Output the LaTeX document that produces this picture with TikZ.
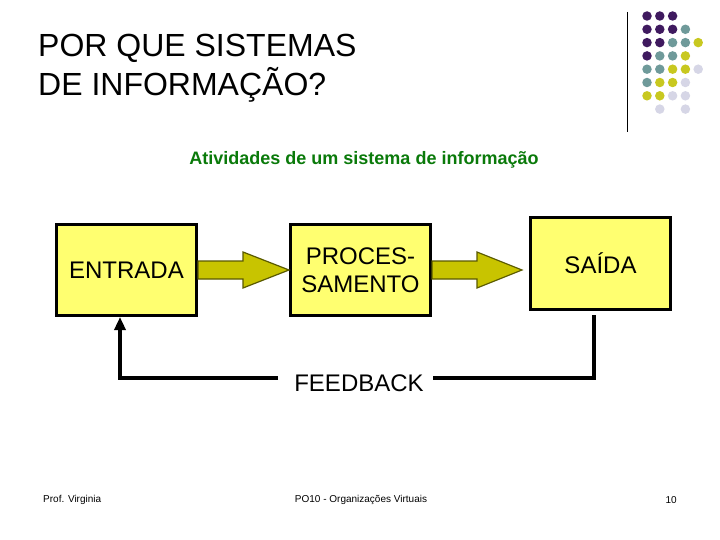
\documentclass[tikz,border=0pt]{standalone}
\usepackage{fontspec}
\setmainfont{Liberation Sans}
\usetikzlibrary{calc,arrows.meta}
\definecolor{boxyellow}{HTML}{FFFF70}
\definecolor{arrowolive}{HTML}{C8C400}
\definecolor{arrowedge}{HTML}{5A5A00}
\definecolor{subgreen}{HTML}{0A7A0A}
\definecolor{dotP}{HTML}{3F1A5F}
\definecolor{dotT}{HTML}{6F9A9A}
\definecolor{dotY}{HTML}{C8C820}
\definecolor{dotL}{HTML}{D6D6E6}
\tikzset{
  stagebox/.style={draw=black,line width=3pt,fill=boxyellow,minimum width=140pt,minimum height=91pt,inner sep=0pt,font=\fontsize{24}{28}\selectfont,align=center},
  blockarrow/.style={draw=arrowedge,line width=1.2pt,fill=arrowolive,line join=miter},
  fbline/.style={line width=4pt,draw=black},
  dot/.style={circle,inner sep=0pt,minimum size=9.5pt},
  titletext/.style={anchor=base west,inner sep=0pt,font=\fontsize{32}{38}\selectfont},
  foot/.style={inner sep=0pt,font=\fontsize{10}{12}\selectfont}
}
\begin{document}
\begin{tikzpicture}[x=1pt,y=-1pt]
\useasboundingbox[fill=white] (0,0) rectangle (720,540);
% title
\node[titletext] (t1) at (38,57) {POR QUE SISTEMAS};
\node[titletext] (t2) at (38,96) {DE INFORMAÇÃO?};
% decoration
\coordinate (vl1) at (627,12);
\coordinate (vl2) at (627,132);
\draw[line width=1pt] (vl1) -- (vl2);
\foreach \r/\a/\b/\cc/\d/\e in {1/P/P/P/N/N,2/P/P/P/T/N,3/P/P/T/T/Y,4/P/T/T/Y/N,5/T/T/Y/Y/L,6/T/Y/Y/L/N,7/Y/Y/L/L/N,8/N/L/N/L/N}{
  \foreach \c/\k in {1/\a,2/\b,3/\cc,4/\d,5/\e}{
    \if N\k\else
      \node[dot,fill=dot\k] (d\r\c) at ({647+12.8*(\c-1)},{16+13.3*(\r-1)}) {};
    \fi
  }
}
% subtitle
\node[inner sep=0pt,text=subgreen,font=\bfseries\fontsize{18}{22}\selectfont] (sub) at (364,160) {Atividades de um sistema de informação};
% boxes
\node[stagebox] (ent) at (126.5,270) {ENTRADA};
\node[stagebox] (proc) at (360.5,270) {PROCES-\\SAMENTO};
\node[stagebox] (sai) at (600.5,263.5) {SAÍDA};
% block arrows
\draw[blockarrow] ($(ent.east)+(0,-9)$) -- ($(ent.east)+(45,-9)$) -- ($(ent.east)+(45,-18)$) -- (proc.west) -- ($(ent.east)+(45,18)$) -- ($(ent.east)+(45,9)$) -- ($(ent.east)+(0,9)$) -- cycle;
\coordinate (tip2) at ($(proc.east)+(90,0)$);
\draw[blockarrow] ($(proc.east)+(0,-9)$) -- ($(proc.east)+(45,-9)$) -- ($(proc.east)+(45,-18)$) -- (tip2) -- ($(proc.east)+(45,18)$) -- ($(proc.east)+(45,9)$) -- ($(proc.east)+(0,9)$) -- cycle;
% feedback
\node[inner sep=0pt,font=\fontsize{24}{28}\selectfont] (fbt) at (359,383) {FEEDBACK};
\coordinate (fbA) at (594,317);
\coordinate (fbB) at (594,378);
\coordinate (fbC) at (435,378);
\coordinate (fbD) at (278,378);
\coordinate (fbE) at (120,378);
\coordinate (fbF) at ($(ent.south)+(-6.5,0)$);
\draw[fbline,line cap=rect] (fbA) -- (fbB) -- (fbC);
\draw[fbline,-{Triangle[length=13pt,width=11pt]}] (fbD) -- (fbE) -- (fbF);
% footer
\node[foot,anchor=west] (f1) at (43,500) {Prof. Virginia};
\node[foot] (f2) at (361,500) {PO10 - Organizações Virtuais};
\node[foot,anchor=east] (f3) at (677,500) {10};
\end{tikzpicture}
\end{document}
